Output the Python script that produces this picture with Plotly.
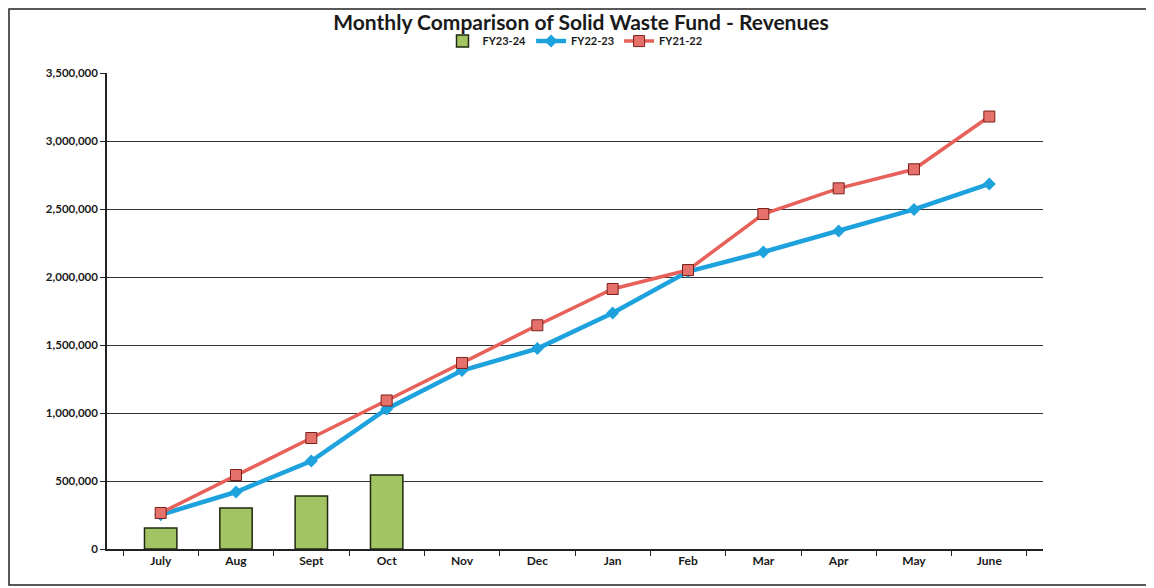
import plotly.graph_objects as go

# ── Data ──────────────────────────────────────────────────────────────────────
MONTHS = ["July", "Aug", "Sept", "Oct", "Nov", "Dec",
          "Jan", "Feb", "Mar", "Apr", "May", "June"]

FY23_24 = [154000, 301000, 390000, 544000]
FY22_23 = [252000, 419000, 647000, 1030000, 1312000, 1474000,
           1735000, 2040000, 2184000, 2338000, 2497000, 2684000]
FY21_22 = [265000, 544000, 816000, 1092000, 1368000, 1645000,
           1912000, 2051000, 2463000, 2652000, 2792000, 3180000]

Y_TICKS = [0, 500000, 1000000, 1500000, 2000000, 2500000, 3000000, 3500000]

FONT = "Lato, 'Open Sans', sans-serif"

fig = go.Figure()

fig.add_trace(go.Bar(
    x=MONTHS[:len(FY23_24)], y=FY23_24,
    name="FY23-24",
    marker=dict(color="#A3C463", line=dict(color="#1F2A10", width=1.5)),
))

fig.add_trace(go.Scatter(
    x=MONTHS, y=FY22_23,
    mode="lines+markers",
    name="FY22-23",
    line=dict(color="#1EA2DD", width=4.5),
    marker=dict(symbol="diamond", size=10, color="#1EA2DD"),
))

fig.add_trace(go.Scatter(
    x=MONTHS, y=FY21_22,
    mode="lines+markers",
    name="FY21-22",
    line=dict(color="#E8605A", width=3.5),
    marker=dict(symbol="square", size=11, color="#E6706A",
                line=dict(color="#7A1F1A", width=1)),
))

# outer frame of the chart box
fig.add_shape(
    type="rect", xref="paper", yref="paper",
    x0=-0.1047, x1=1.1143, y0=-0.0756, y1=1.1345,
    line=dict(color="#222222", width=1.5),
    fillcolor="rgba(0,0,0,0)", layer="below",
)

# page body has an 8px margin, so the figure is 8px smaller
fig.update_layout(
    width=1146, height=580,
    title=dict(
        text="<b>Monthly Comparison of Solid Waste Fund - Revenues</b>",
        x=0.5, xanchor="center", y=0.974, yanchor="middle",
        font=dict(family=FONT, size=21, color="#1a1a1a"),
    ),
    legend=dict(
        orientation="h", x=0.5, xanchor="center", y=1.067, yanchor="middle",
        font=dict(family=FONT, size=11, color="#1a1a1a", weight="bold"),
        itemwidth=30, tracegroupgap=0,
        bgcolor="rgba(0,0,0,0)",
    ),
    bargap=0.57,
    margin=dict(l=99, r=111, t=65, b=39),
    paper_bgcolor="white",
    plot_bgcolor="white",
    font=dict(family=FONT, size=11, color="#1a1a1a"),
    showlegend=True,
)

fig.update_xaxes(
    type="category",
    categoryorder="array", categoryarray=MONTHS,
    showline=True, linecolor="#222222", linewidth=1.5,
    ticks="outside", tickson="boundaries", ticklen=5, tickcolor="#222222",
    tickfont=dict(family=FONT, size=12, weight="bold"),
    showgrid=False,
)

fig.update_yaxes(
    range=[0, 3500000],
    tickvals=Y_TICKS, tickformat=",d",
    showline=True, linecolor="#222222", linewidth=1.5,
    ticks="outside", ticklen=5, tickcolor="#222222",
    tickfont=dict(family=FONT, size=11.5, weight="bold"),
    showgrid=True, gridcolor="#333333", gridwidth=1,
    zeroline=False,
)

fig.write_html("out.html")
